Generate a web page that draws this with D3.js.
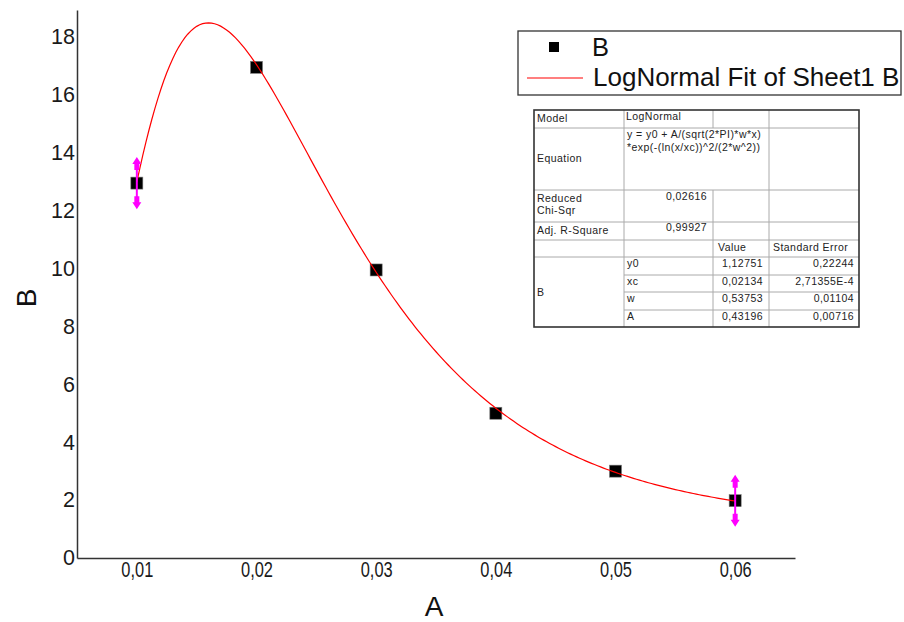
<!DOCTYPE html>
<html>
<head>
<meta charset="utf-8">
<script src="https://cdn.jsdelivr.net/npm/d3@7"></script>
<style>
  body { margin: 0; background: #fff; }
  svg { display: block; font-family: "Liberation Sans", Arial, sans-serif; }
</style>
</head>
<body>
<svg id="chart" width="904" height="622"></svg>
<script>
// Measured data
const xValues = [0.01, 0.02, 0.03, 0.04, 0.05, 0.06];
const yValues = [12.95, 16.95, 9.95, 5, 3, 1.98];
const yErrors = [0.9, 0, 0, 0, 0, 0.9];

// Fitted LogNormal parameters (y = y0 + A/(sqrt(2*PI)*w*x)*exp(-(ln(x/xc))^2/(2*w^2)))
const paramNames = ["y0", "xc", "w", "A"];
const paramValues = [1.12751, 0.02134, 0.53753, 0.43196];
const paramErrors = ["0,22244", "2,71355E-4", "0,01104", "0,00716"];
const paramValueText = ["1,12751", "0,02134", "0,53753", "0,43196"];
const reducedChiSqr = "0,02616";
const adjRSquare = "0,99927";

const xTicks = [0.01, 0.02, 0.03, 0.04, 0.05, 0.06];
const yTicks = [0, 2, 4, 6, 8, 10, 12, 14, 16, 18];

const svg = d3.select("#chart");
const x = d3.scaleLinear().domain([0.005, 0.065]).range([77, 795]);
const y = d3.scaleLinear().domain([0, 18.93]).range([558, 10]);

const locale = d3.formatLocale({ decimal: ",", thousands: ".", grouping: [3], currency: ["", ""] });
const fmtX = locale.format(".2f");

// Axes
const yAxis = svg.append("g")
  .attr("transform", "translate(77,0)")
  .call(d3.axisLeft(y).tickValues(yTicks).tickSize(0).tickSizeOuter(0).tickPadding(2).tickFormat(d3.format("d")));
yAxis.select(".domain").attr("stroke", "#333").attr("stroke-width", 1.5);
yAxis.selectAll("text").attr("font-size", 21.5).attr("fill", "#1a1a1a")
  .attr("font-family", '"Liberation Sans", Arial, sans-serif');

const xAxis = svg.append("g")
  .attr("transform", "translate(0,558)")
  .call(d3.axisBottom(x).tickValues(xTicks).tickSize(0).tickSizeOuter(0).tickPadding(3).tickFormat(fmtX));
xAxis.select(".domain").attr("stroke", "#333").attr("stroke-width", 1.5);
xAxis.selectAll("text").attr("font-size", 22.5).attr("fill", "#1a1a1a")
  .attr("font-family", '"Liberation Sans", Arial, sans-serif')
  .attr("transform", "scale(0.73,1)");

// Axis titles
svg.append("text").attr("x", 434).attr("y", 616).attr("text-anchor", "middle")
  .attr("font-size", 28).attr("fill", "#111").text("A");
svg.append("text").attr("transform", "translate(36,298) rotate(-90)").attr("text-anchor", "middle")
  .attr("font-size", 28).attr("fill", "#111").text("B");

// Data markers
const pts = xValues.map((v, i) => ({ x: v, y: yValues[i], e: yErrors[i] }));
svg.append("g").selectAll("rect").data(pts).join("rect")
  .attr("x", d => x(d.x) - 6).attr("y", d => y(d.y) - 6)
  .attr("width", 12).attr("height", 12)
  .attr("fill", "#000").attr("stroke", "#777").attr("stroke-width", 0.6);

// Fit curve from the fitted parameters
const [p0, pxc, pw, pA] = paramValues;
const fit = xv => p0 + pA / (Math.sqrt(2 * Math.PI) * pw * xv) * Math.exp(-Math.pow(Math.log(xv / pxc), 2) / (2 * pw * pw));
const fitX = d3.range(0.01, 0.06 + 1e-9, 0.00025);
svg.append("path")
  .attr("d", d3.line().x(d => x(d)).y(d => y(fit(d)))(fitX))
  .attr("fill", "none").attr("stroke", "#ff0000").attr("stroke-width", 1.2);

// Error bars with arrow heads
const eb = svg.append("g").attr("fill", "#ff00ff");
pts.filter(d => d.e > 0).forEach(d => {
  const cx = x(d.x);
  const top = y(d.y + d.e), bot = y(d.y - d.e);
  eb.append("line").attr("x1", cx).attr("x2", cx).attr("y1", top + 8).attr("y2", bot - 8)
    .attr("stroke", "#ff00ff").attr("stroke-width", 2);
  const head = (t, s) => `M${cx},${t} L${cx + 4.5},${t + 7 * s} L${cx + 2.5},${t + 7 * s} L${cx + 2.5},${t + 13 * s} L${cx - 2.5},${t + 13 * s} L${cx - 2.5},${t + 7 * s} L${cx - 4.5},${t + 7 * s} Z`;
  eb.append("path").attr("d", head(top, 1));
  eb.append("path").attr("d", head(bot, -1));
});

// Legend
const lg = svg.append("g");
lg.append("rect").attr("x", 518).attr("y", 31).attr("width", 383).attr("height", 64)
  .attr("fill", "#fff").attr("stroke", "#333").attr("stroke-width", 1.3);
lg.append("rect").attr("x", 549).attr("y", 42).attr("width", 10).attr("height", 10).attr("fill", "#000");
lg.append("text").attr("x", 592).attr("y", 56).attr("font-size", 25.5).attr("fill", "#111").text("B");
lg.append("line").attr("x1", 527).attr("x2", 583).attr("y1", 78).attr("y2", 78)
  .attr("stroke", "#ff0000").attr("stroke-width", 1.2);
lg.append("text").attr("x", 593).attr("y", 86).attr("font-size", 26).attr("fill", "#111").text("LogNormal Fit of Sheet1 B");

// Fit results table
const tb = svg.append("g").attr("font-size", 10.5).attr("letter-spacing", 0.45).attr("fill", "#222");
const cL = 534, c1 = 624, c2 = 713, c3 = 769, cR = 859;
const rows = [110, 128, 190, 222, 240, 257, 275, 292, 310, 327];
tb.append("rect").attr("x", cL).attr("y", rows[0]).attr("width", cR - cL).attr("height", rows[9] - rows[0])
  .attr("fill", "#fff");
const grid = [];
// horizontal lines
[rows[1], rows[2], rows[3], rows[4], rows[5]].forEach(r => grid.push([cL, r, cR, r]));
[rows[6], rows[7], rows[8]].forEach(r => grid.push([c1, r, cR, r]));
// vertical lines
grid.push([c1, rows[0], c1, rows[9]]);
grid.push([c2, rows[0], c2, rows[1]]);
grid.push([c2, rows[2], c2, rows[9]]);
grid.push([c3, rows[0], c3, rows[9]]);
tb.selectAll("line.g").data(grid).join("line")
  .attr("x1", d => d[0]).attr("y1", d => d[1]).attr("x2", d => d[2]).attr("y2", d => d[3])
  .attr("stroke", "#aaa").attr("stroke-width", 1);
tb.append("rect").attr("x", cL).attr("y", rows[0]).attr("width", cR - cL).attr("height", rows[9] - rows[0])
  .attr("fill", "none").attr("stroke", "#333").attr("stroke-width", 1.6);

const txt = (s, tx, ty, anchor) => tb.append("text").attr("x", tx).attr("y", ty)
  .attr("text-anchor", anchor || "start").text(s);
txt("Model", 537, 122);
txt("LogNormal", 626, 120);
txt("y = y0 + A/(sqrt(2*PI)*w*x)", 627, 138);
txt("*exp(-(ln(x/xc))^2/(2*w^2))", 627, 151);
txt("Equation", 537, 162);
txt("Reduced", 537, 202);
txt("Chi-Sqr", 537, 214);
txt(reducedChiSqr, 707, 200, "end");
txt("Adj. R-Square", 537, 234);
txt(adjRSquare, 707, 231, "end");
txt("Value", 718, 251);
txt("Standard Error", 773, 251);
txt("B", 537, 296);
paramNames.forEach((n, i) => {
  const by = rows[5 + i] + 10;
  txt(n, 627, by);
  txt(paramValueText[i], 763, by, "end");
  txt(paramErrors[i], 854, by, "end");
});
</script>
</body>
</html>
